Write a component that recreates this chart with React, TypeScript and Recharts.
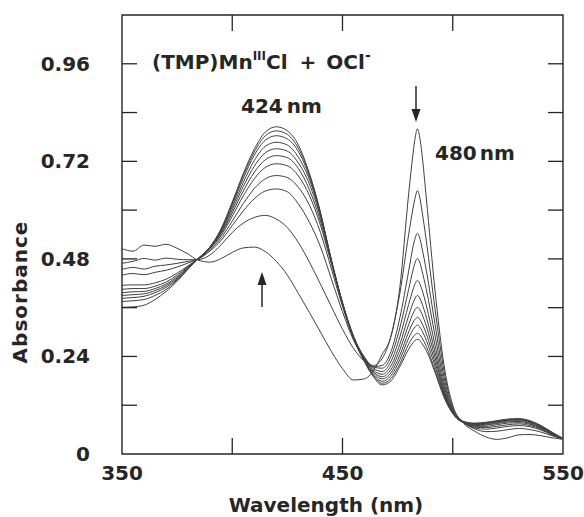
import { LineChart, Line, XAxis, YAxis, ReferenceArea } from 'recharts';

// wavelength grid (nm), finer around the 484 nm band
const WAVELENGTH = [
  350, 355, 360, 365, 370, 375, 380, 384, 390, 395, 400, 405, 410, 415, 420, 425, 430, 435, 440, 445, 450, 455, 460,
  464, 468, 472, 476, 480, 482, 483, 484, 485, 486, 488, 492, 496, 500, 505, 510, 515, 520, 525, 530, 535, 540, 545, 550,
];

// absorbance traces, first = start of reaction, last = end
const SCAN_0 = [
  0.505, 0.499, 0.514, 0.511, 0.516, 0.506, 0.492, 0.478, 0.472, 0.481, 0.496, 0.507, 0.509, 0.498, 0.474, 0.44, 0.395,
  0.348, 0.3, 0.252, 0.21, 0.182, 0.185, 0.205, 0.245, 0.29, 0.41, 0.64, 0.74, 0.78, 0.8, 0.78, 0.74, 0.63, 0.4, 0.22,
  0.12, 0.075, 0.056, 0.042, 0.036, 0.04, 0.047, 0.048, 0.045, 0.04, 0.036,
];
const SCAN_1 = [
  0.469, 0.474, 0.481, 0.477, 0.482, 0.479, 0.478, 0.478, 0.49, 0.515, 0.545, 0.568, 0.582, 0.587, 0.578, 0.557, 0.52,
  0.472, 0.418, 0.362, 0.307, 0.26, 0.228, 0.218, 0.235, 0.29, 0.395, 0.54, 0.605, 0.632, 0.648, 0.632, 0.6, 0.525,
  0.355, 0.205, 0.115, 0.078, 0.062, 0.055, 0.056, 0.06, 0.063, 0.06, 0.054, 0.045, 0.037,
];
const SCAN_2 = [
  0.454, 0.459, 0.455, 0.462, 0.465, 0.469, 0.474, 0.478, 0.5, 0.526, 0.562, 0.598, 0.628, 0.647, 0.652, 0.645, 0.615,
  0.57, 0.51, 0.43, 0.35, 0.28, 0.235, 0.215, 0.218, 0.252, 0.335, 0.45, 0.51, 0.532, 0.543, 0.532, 0.508, 0.452,
  0.318, 0.19, 0.11, 0.077, 0.064, 0.061, 0.064, 0.068, 0.07, 0.067, 0.059, 0.047, 0.037,
];
const SCAN_3 = [
  0.44, 0.444, 0.441, 0.447, 0.452, 0.46, 0.47, 0.478, 0.503, 0.532, 0.573, 0.616, 0.653, 0.677, 0.685, 0.68, 0.656,
  0.612, 0.545, 0.455, 0.363, 0.285, 0.237, 0.214, 0.211, 0.24, 0.31, 0.405, 0.453, 0.472, 0.481, 0.472, 0.452, 0.405,
  0.29, 0.178, 0.107, 0.077, 0.066, 0.065, 0.068, 0.072, 0.074, 0.07, 0.061, 0.048, 0.037,
];
const SCAN_4 = [
  0.415, 0.416, 0.416, 0.421, 0.43, 0.445, 0.463, 0.478, 0.506, 0.538, 0.585, 0.635, 0.677, 0.705, 0.714, 0.709, 0.684,
  0.636, 0.563, 0.467, 0.368, 0.288, 0.238, 0.211, 0.203, 0.228, 0.288, 0.368, 0.405, 0.42, 0.427, 0.42, 0.405, 0.366,
  0.267, 0.168, 0.105, 0.077, 0.068, 0.068, 0.072, 0.076, 0.077, 0.073, 0.063, 0.049, 0.037,
];
const SCAN_5 = [
  0.405, 0.407, 0.407, 0.413, 0.423, 0.44, 0.461, 0.478, 0.507, 0.542, 0.593, 0.647, 0.693, 0.724, 0.734, 0.729, 0.702,
  0.65, 0.573, 0.472, 0.372, 0.29, 0.236, 0.207, 0.196, 0.217, 0.27, 0.34, 0.372, 0.384, 0.39, 0.384, 0.371, 0.337,
  0.25, 0.16, 0.103, 0.077, 0.07, 0.071, 0.075, 0.079, 0.08, 0.075, 0.064, 0.05, 0.037,
];
const SCAN_6 = [
  0.397, 0.399, 0.4, 0.407, 0.418, 0.436, 0.459, 0.478, 0.508, 0.545, 0.6, 0.658, 0.708, 0.741, 0.751, 0.745, 0.716,
  0.664, 0.582, 0.475, 0.372, 0.289, 0.234, 0.203, 0.19, 0.208, 0.256, 0.318, 0.346, 0.356, 0.361, 0.356, 0.345, 0.315,
  0.237, 0.155, 0.102, 0.077, 0.072, 0.073, 0.077, 0.081, 0.082, 0.077, 0.066, 0.051, 0.038,
];
const SCAN_7 = [
  0.39, 0.392, 0.394, 0.402, 0.414, 0.433, 0.458, 0.478, 0.509, 0.548, 0.607, 0.668, 0.722, 0.757, 0.767, 0.76, 0.73,
  0.675, 0.588, 0.477, 0.372, 0.288, 0.232, 0.2, 0.185, 0.2, 0.243, 0.3, 0.324, 0.332, 0.336, 0.332, 0.322, 0.296,
  0.225, 0.15, 0.101, 0.078, 0.073, 0.075, 0.079, 0.083, 0.084, 0.079, 0.067, 0.052, 0.038,
];
const SCAN_8 = [
  0.383, 0.385, 0.388, 0.397, 0.41, 0.43, 0.457, 0.478, 0.51, 0.551, 0.613, 0.678, 0.735, 0.772, 0.783, 0.775, 0.744,
  0.682, 0.59, 0.475, 0.37, 0.286, 0.23, 0.196, 0.179, 0.193, 0.232, 0.285, 0.306, 0.313, 0.317, 0.313, 0.304, 0.28,
  0.215, 0.146, 0.1, 0.078, 0.074, 0.076, 0.08, 0.084, 0.085, 0.08, 0.068, 0.052, 0.038,
];
const SCAN_9 = [
  0.375, 0.377, 0.38, 0.39, 0.405, 0.428, 0.456, 0.478, 0.51, 0.553, 0.617, 0.685, 0.743, 0.783, 0.795, 0.786, 0.752,
  0.688, 0.593, 0.475, 0.37, 0.285, 0.228, 0.193, 0.174, 0.186, 0.222, 0.27, 0.288, 0.294, 0.297, 0.294, 0.286, 0.265,
  0.205, 0.142, 0.1, 0.079, 0.075, 0.077, 0.081, 0.085, 0.086, 0.081, 0.069, 0.053, 0.038,
];
const SCAN_10 = [
  0.361, 0.362, 0.366, 0.38, 0.4, 0.425, 0.455, 0.478, 0.51, 0.555, 0.62, 0.69, 0.75, 0.792, 0.805, 0.795, 0.76, 0.69,
  0.595, 0.475, 0.37, 0.285, 0.226, 0.19, 0.17, 0.18, 0.215, 0.258, 0.274, 0.28, 0.282, 0.28, 0.272, 0.255, 0.2, 0.14,
  0.1, 0.08, 0.076, 0.078, 0.082, 0.086, 0.087, 0.082, 0.07, 0.054, 0.038,
];

const SCANS = [SCAN_0, SCAN_1, SCAN_2, SCAN_3, SCAN_4, SCAN_5, SCAN_6, SCAN_7, SCAN_8, SCAN_9, SCAN_10];

const X_TICKS = [350, 400, 450, 500, 550];
const X_TICK_LABELS = ['350', '', '450', '', '550'];
const Y_TICKS = [0, 0.12, 0.24, 0.36, 0.48, 0.6, 0.72, 0.84, 0.96, 1.08];
const Y_TICK_LABELS = ['0', '', '0.24', '', '0.48', '', '0.72', '', '0.96', ''];

const data = WAVELENGTH.map((w, i) => {
  const row: Record<string, number> = { w };
  SCANS.forEach((s, k) => {
    row['s' + k] = s[i];
  });
  return row;
});

const FONT = '"DejaVu Sans", sans-serif';
const INK = '#262626';
const PLOT_W = 441;
const PLOT_H = 439;
const TICK_LEN = 15;

function XTick(props: any) {
  const { x, y, index } = props;
  const label = X_TICK_LABELS[index];
  const inner = index > 0 && index < X_TICKS.length - 1;
  return (
    <g>
      {inner && <line x1={x} x2={x} y1={y} y2={y - TICK_LEN - 1} stroke={INK} strokeWidth={1.3} />}
      {inner && <line x1={x} x2={x} y1={y - PLOT_H} y2={y - PLOT_H + TICK_LEN + 1} stroke={INK} strokeWidth={1.3} />}
      {label && (
        <text x={x} y={y + 26} textAnchor="middle" fontFamily={FONT} fontWeight="bold" fontSize={20} fill={INK}>
          {label}
        </text>
      )}
    </g>
  );
}

function YTick(props: any) {
  const { x, y, index } = props;
  const label = Y_TICK_LABELS[index];
  const inner = index > 0 && index < Y_TICKS.length - 1;
  return (
    <g>
      {inner && <line x1={x} x2={x + TICK_LEN} y1={y} y2={y} stroke={INK} strokeWidth={1.3} />}
      {inner && <line x1={x + PLOT_W} x2={x + PLOT_W - TICK_LEN} y1={y} y2={y} stroke={INK} strokeWidth={1.3} />}
      {label && (
        <text x={x - 32} y={y + 7} textAnchor="end" fontFamily={FONT} fontWeight="bold" fontSize={20} fill={INK}>
          {label}
        </text>
      )}
    </g>
  );
}

export default function App() {
  return (
    <div style={{ position: 'absolute', left: 0, top: 0, width: 584, height: 517, background: '#fff' }}>
      <LineChart width={584} height={517} data={data} margin={{ top: 15, right: 21, bottom: 33, left: 62 }}>
        <XAxis
          dataKey="w"
          type="number"
          domain={[350, 550]}
          ticks={X_TICKS}
          interval={0}
          tickSize={0}
          tickMargin={0}
          axisLine={false}
          tickLine={false}
          height={30}
          tick={<XTick />}
        />
        <YAxis
          type="number"
          domain={[0, 1.08]}
          ticks={Y_TICKS}
          interval={0}
          tickSize={0}
          tickMargin={0}
          axisLine={false}
          tickLine={false}
          width={60}
          tick={<YTick />}
        />
        <ReferenceArea x1={350} x2={550} y1={0} y2={1.08} fill="none" stroke={INK} strokeWidth={1.4} ifOverflow="visible" />
        {SCANS.map((_, k) => (
          <Line
            key={k}
            dataKey={'s' + k}
            type="monotone"
            stroke="#404040"
            strokeWidth={1}
            dot={false}
            activeDot={false}
            isAnimationActive={false}
          />
        ))}
      </LineChart>
      <svg
        width={584}
        height={517}
        style={{ position: 'absolute', left: 0, top: 0, pointerEvents: 'none' }}
        fontFamily={FONT}
        fontWeight="bold"
        fill={INK}
      >
        <text x={152} y={69} fontSize={20}>
          (TMP)Mn
          <tspan fontSize={12} dy={-9}>
            III
          </tspan>
          <tspan dy={9}>Cl</tspan>
          <tspan dx={12}>+</tspan>
          <tspan dx={10}>OCl</tspan>
          <tspan fontSize={14} dy={-9}>
            -
          </tspan>
        </text>
        <text x={241} y={113} fontSize={20}>
          424<tspan dx={4}>nm</tspan>
        </text>
        <text x={435} y={160} fontSize={20}>
          480<tspan dx={3}>nm</tspan>
        </text>
        <text x={326} y={512} fontSize={20} textAnchor="middle">
          Wavelength (nm)
        </text>
        <text
          x={27}
          y={292}
          fontSize={20}
          letterSpacing={1}
          textAnchor="middle"
          transform="rotate(-90 27 292)"
        >
          Absorbance
        </text>
        <line x1={416} x2={416} y1={86} y2={112} stroke={INK} strokeWidth={1.5} />
        <polygon points="411.5,109 420.5,109 416,122" fill={INK} />
        <line x1={262} x2={262} y1={307} y2={282} stroke={INK} strokeWidth={1.5} />
        <polygon points="257.5,285 266.5,285 262,272" fill={INK} />
      </svg>
    </div>
  );
}
